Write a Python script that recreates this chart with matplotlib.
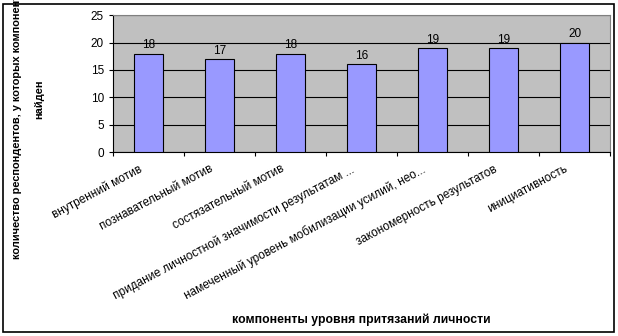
import matplotlib.pyplot as plt
from matplotlib.patches import Rectangle

plt.rcParams['font.family'] = ['Liberation Sans', 'DejaVu Sans']

# data
categories = [
    'внутренний мотив',
    'познавательный мотив',
    'состязательный мотив',
    'придание личностной значимости результатам ...',
    'намеченный уровень мобилизации усилий, нео...',
    'закономерность результатов',
    'инициативность',
]
values = [18, 17, 18, 16, 19, 19, 20]
y_ticks = [0, 5, 10, 15, 20, 25]

fig = plt.figure(figsize=(6.18, 3.36), dpi=100)
ax = fig.add_axes([0.1828, 0.5476, 0.8046, 0.407])
ax.set_facecolor('#C0C0C0')

x = range(len(categories))
ax.bar(x, values, width=0.4, color='#9999FF', edgecolor='black', linewidth=0.8, zorder=3)

# value labels
for xi, v in zip(x, values):
    ax.text(xi, v + 0.4, str(v), ha='center', va='bottom', fontsize=8.5, zorder=4)

ax.set_ylim(0, 25)
ax.set_xlim(-0.5, len(categories) - 0.5)
ax.set_yticks(y_ticks)
ax.tick_params(axis='y', labelsize=8.5, length=3, width=0.8, direction='out')
ax.yaxis.grid(True, color='black', linewidth=0.8, zorder=1)

# category ticks between bars, labels at bar centres
ax.set_xticks([i - 0.5 for i in range(len(categories) + 1)])
ax.set_xticklabels([])
ax.tick_params(axis='x', length=3, width=0.8, direction='out')
for xi, lab in zip(x, categories):
    ax.annotate(lab, xy=(xi, 0), xycoords=('data', 'axes fraction'),
                xytext=(-7.5, -8), textcoords='offset points',
                ha='right', va='top', rotation=28, rotation_mode='anchor',
                fontsize=8.5)

for s in ['left', 'bottom']:
    ax.spines[s].set_color('black')
    ax.spines[s].set_linewidth(0.8)
for s in ['top', 'right']:
    ax.spines[s].set_color('#808080')
    ax.spines[s].set_linewidth(0.8)

# axis titles
fig.text(361 / 618, 1 - 320 / 336, 'компоненты уровня притязаний личности',
         ha='center', va='center', fontsize=8.8, fontweight='bold')
fig.text(17 / 618, 1 - 127 / 336, 'количество респондентов, у которых компонент',
         ha='center', va='center', rotation=90, fontsize=7.9, fontweight='bold')
fig.text(39 / 618, 1 - 99 / 336, 'найден',
         ha='center', va='center', rotation=90, fontsize=7.9, fontweight='bold')

# outer frame
fig.patches.append(Rectangle((3 / 618, 4 / 336), 611 / 618, 328 / 336,
                             transform=fig.transFigure, fill=False,
                             edgecolor='black', linewidth=1.2))

fig.savefig('out.png', dpi=100)
